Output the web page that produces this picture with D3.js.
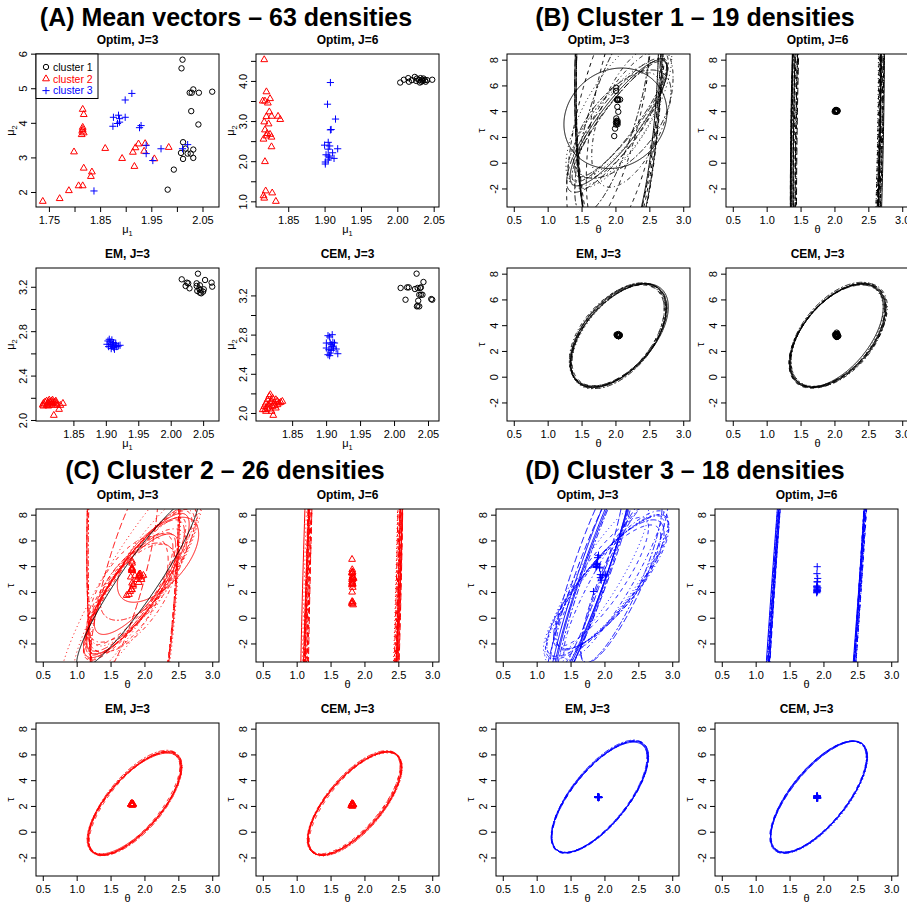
<!DOCTYPE html>
<html>
<head>
<meta charset="utf-8">
<script src="https://cdn.jsdelivr.net/npm/d3@7"></script>
<style>
  body { margin: 0; background: #fff; }
  svg text { font-family: "Liberation Sans", Arial, Helvetica, sans-serif; }
</style>
</head>
<body>
<script>
// ---------- estimated mean vectors (mu1, mu2) per method and cluster ----------
const optim3Cluster1 = [[2.011,5.826],[2.009,5.575],[2.032,4.966],[2.025,4.870],[2.029,4.870],[2.043,4.870],[2.069,4.900],[2.028,4.338],[2.042,3.952],[2.012,3.440],[2.017,3.256],[2.032,3.227],[2.008,3.130],[2.021,3.110],[2.027,3.110],[2.012,2.956],[2.032,2.985],[1.994,2.647],[1.982,2.068]];
const optim3Cluster2 = [[1.738,1.730],[1.771,1.810],[1.789,2.040],[1.808,2.180],[1.816,2.180],[1.799,3.160],[1.818,2.690],[1.834,2.580],[1.832,2.450],[1.816,4.390],[1.818,4.240],[1.816,3.870],[1.815,3.760],[1.818,3.710],[1.814,3.660],[1.816,3.810],[1.860,3.260],[1.893,2.970],[1.917,2.740],[1.914,3.150],[1.919,3.280],[1.925,3.390],[1.936,3.180],[1.938,3.400],[1.956,2.960],[1.984,3.290]];
const optim3Cluster3 = [[1.838,2.030],[1.899,4.660],[1.912,4.850],[1.876,4.160],[1.875,3.900],[1.886,4.220],[1.888,4.020],[1.884,3.980],[1.899,4.160],[1.927,3.860],[1.930,3.920],[1.940,3.350],[1.940,3.110],[1.953,2.910],[1.969,3.250],[2.011,3.250],[2.021,3.370],[1.888,4.120]];

const optim6Cluster1 = [[2.004,3.96],[2.009,4.03],[2.015,4.07],[2.016,3.98],[2.024,4.10],[2.027,4.06],[2.030,4.02],[2.032,4.07],[2.034,4.03],[2.035,4.00],[2.033,3.98],[2.036,4.06],[2.038,4.02],[2.039,3.98],[2.031,3.96],[2.026,4.00],[2.020,4.02],[2.041,4.02],[2.048,4.03]];
const optim6Cluster2 = [[1.817,4.53],[1.820,3.73],[1.815,3.50],[1.818,3.50],[1.822,3.45],[1.825,3.56],[1.824,3.23],[1.827,3.12],[1.820,3.11],[1.836,3.12],[1.839,3.04],[1.817,2.98],[1.823,2.93],[1.818,2.78],[1.821,2.69],[1.825,2.67],[1.820,2.63],[1.827,2.60],[1.816,2.55],[1.827,2.36],[1.818,1.99],[1.819,1.26],[1.816,1.14],[1.817,1.08],[1.828,1.21],[1.833,1.00]];
const optim6Cluster3 = [[1.908,3.96],[1.904,3.42],[1.915,3.05],[1.909,2.79],[1.908,2.78],[1.900,2.40],[1.905,2.47],[1.907,2.38],[1.905,2.30],[1.902,2.16],[1.905,2.13],[1.905,2.03],[1.901,1.98],[1.907,2.10],[1.913,2.07],[1.918,2.31],[1.901,1.93],[1.911,2.21]];

const em3Cluster1 = [[2.017,3.267],[2.025,3.237],[2.027,3.231],[2.023,3.207],[2.029,3.186],[2.040,3.231],[2.042,3.318],[2.045,3.213],[2.044,3.183],[2.041,3.162],[2.045,3.147],[2.047,3.141],[2.046,3.171],[2.050,3.156],[2.051,3.177],[2.053,3.261],[2.063,3.237],[2.064,3.201],[2.040,3.207]];
const em3Cluster2 = [[1.8038,2.150],[1.8063,2.162],[1.8088,2.171],[1.8113,2.156],[1.8138,2.162],[1.8163,2.171],[1.8188,2.156],[1.8214,2.162],[1.8239,2.150],[1.8098,2.141],[1.8088,2.132],[1.8138,2.132],[1.8188,2.135],[1.8038,2.126],[1.8249,2.132],[1.8128,2.180],[1.8178,2.180],[1.8163,2.147],[1.8113,2.126],[1.8229,2.171],[1.8279,2.096],[1.8198,2.042],[1.8339,2.150],[1.8299,2.132],[1.8028,2.135],[1.8148,2.156]];
const em3Cluster3 = [[1.9033,2.712],[1.9053,2.727],[1.9068,2.682],[1.9093,2.667],[1.9118,2.697],[1.9143,2.673],[1.9168,2.661],[1.9193,2.667],[1.9083,2.643],[1.9043,2.661],[1.9133,2.637],[1.9103,2.682],[1.9068,2.703],[1.9018,2.682],[1.9219,2.673],[1.9153,2.691],[1.9093,2.721],[1.9123,2.652]];

const cem3Cluster1 = [[2.0097,3.276],[2.0169,3.156],[2.0193,3.282],[2.0217,3.282],[2.0308,3.265],[2.0332,3.422],[2.0347,3.276],[2.0385,3.276],[2.0395,3.282],[2.0433,3.337],[2.0371,3.207],[2.0395,3.207],[2.0418,3.207],[2.0356,3.146],[2.0347,3.095],[2.0371,3.088],[2.0548,3.163],[2.0562,3.156],[2.0337,3.088]];
const cem3Cluster2 = [[1.8092,2.068],[1.8116,2.102],[1.8140,2.136],[1.8164,2.170],[1.8179,2.187],[1.8188,2.119],[1.8212,2.153],[1.8236,2.102],[1.8260,2.136],[1.8284,2.119],[1.8308,2.102],[1.8332,2.109],[1.8356,2.119],[1.8102,2.034],[1.8131,2.051],[1.8164,2.041],[1.8212,2.068],[1.8260,2.051],[1.8068,2.034],[1.8198,2.017],[1.8222,1.976],[1.8150,2.085],[1.8246,2.075],[1.8284,2.085],[1.8179,2.102],[1.8116,2.017]];
const cem3Cluster3 = [[1.9004,2.714],[1.9028,2.789],[1.9052,2.776],[1.9090,2.799],[1.9061,2.714],[1.9076,2.697],[1.9100,2.721],[1.9109,2.663],[1.9124,2.714],[1.9148,2.653],[1.9090,2.680],[1.9042,2.646],[1.9028,2.595],[1.9052,2.585],[1.9061,2.612],[1.9172,2.605],[1.9004,2.663],[1.9076,2.639]];

// ---------- density contours: [theta centre, tau centre, theta half-width, tau half-height, correlation] ----------
const optim3Contours1 = [[2.00,3.45,0.76,3.90,0.12],[1.90,3.80,0.62,9.50,0.65],[2.05,4.00,0.78,6.00,0.70],[2.25,3.60,0.60,5.50,0.55],[2.02,2.90,0.74,5.20,0.84],[2.10,3.00,0.72,4.20,0.60],[2.06,8.40,0.64,17.5,0.17],[2.15,4.20,0.58,10.0,0.55],[1.98,2.60,0.68,4.40,0.72],[2.12,3.80,0.66,5.00,0.78],[2.08,3.40,0.68,4.50,0.88],[1.95,3.50,0.55,7.50,0.75],[2.05,3.10,0.72,4.90,0.86],[2.05,8.00,0.63,16.0,0.15],[2.00,3.20,0.70,4.60,0.80],[2.07,9.00,0.65,18.5,0.19],[2.04,8.80,0.64,17.0,0.18],[2.06,3.30,0.70,4.80,0.90],[2.02,8.20,0.62,16.5,0.16]];
const optim6Contours1 = [[2.04,4.0,0.65,40,0.18],[2.06,4.0,0.67,38,0.20],[2.02,4.0,0.63,42,0.16],[2.04,4.0,0.69,36,0.19],[2.06,4.0,0.62,40,0.21],[2.03,4.0,0.66,45,0.17],[2.02,4.0,0.67,39,0.18],[2.06,4.0,0.64,41,0.20],[2.04,4.0,0.68,37,0.17],[2.05,4.0,0.62,43,0.19],[2.07,4.0,0.65,40,0.22],[2.02,4.0,0.66,38,0.15],[2.05,4.0,0.69,42,0.18],[2.03,4.0,0.63,39,0.20]];
const em3Contours1 = [[2.04,3.21,0.71,4.03,0.52],[2.05,3.20,0.70,4.00,0.53],[2.04,3.22,0.72,4.06,0.51],[2.03,3.19,0.69,3.98,0.52],[2.05,3.23,0.71,3.95,0.54],[2.04,3.18,0.70,4.10,0.50],[2.06,3.20,0.72,4.02,0.55],[2.04,3.20,0.68,3.92,0.52],[2.05,3.15,0.70,4.08,0.56],[2.03,3.24,0.71,3.97,0.49]];
const cem3Contours1 = [[2.05,3.20,0.70,4.00,0.52],[2.04,3.21,0.71,4.04,0.53],[2.05,3.19,0.69,3.97,0.51],[2.06,3.22,0.72,4.05,0.54],[2.04,3.18,0.70,3.94,0.52],[2.05,3.24,0.71,4.09,0.50],[2.03,3.20,0.69,4.01,0.55],[2.05,3.16,0.72,4.06,0.53],[2.04,3.22,0.68,3.96,0.51],[2.06,3.19,0.70,4.02,0.49]];

const optim3Contours2 = [[1.84,8.4,0.69,22,0.15],[1.90,2.5,0.80,5.8,0.86],[1.85,3.0,1.10,9.0,0.90],[1.90,2.5,0.72,4.4,0.75],[1.80,2.0,0.66,4.6,0.80],[1.95,2.9,0.82,5.8,0.86],[1.88,2.6,0.62,3.9,0.78],[1.75,1.8,0.60,4.5,0.60],[1.90,2.4,0.95,7.5,0.88],[1.82,1.5,0.65,4.2,0.65],[1.70,3.0,0.50,8.0,0.80],[1.90,2.8,0.55,3.0,0.55],[2.20,4.5,0.60,3.3,0.60],[1.83,8.0,0.68,21,0.14],[1.85,8.8,0.70,23,0.16],[1.94,2.8,0.80,5.6,0.84],[1.87,2.4,0.72,5.2,0.82],[1.84,8.2,0.67,22,0.15],[1.88,2.5,0.78,5.6,0.85],[1.78,2.2,0.64,4.3,0.76],[2.00,3.2,0.78,5.4,0.83],[1.86,2.3,0.75,5.5,0.87]];
const optim3Contours2Other = [[1.90,2.75,0.90,6.75,0.93]];
const optim6Contours2 = [[1.83,2.6,0.74,60,0.41],[1.85,2.6,0.73,55,0.40],[1.81,2.6,0.77,62,0.42],[1.83,2.6,0.76,58,0.46],[1.85,2.6,0.70,60,0.36],[1.82,2.6,0.74,65,0.41],[1.83,2.6,0.79,57,0.48],[1.86,2.6,0.74,60,0.40],[1.80,2.6,0.73,61,0.42],[1.83,2.6,0.80,55,0.50],[1.84,2.6,0.75,59,0.35],[1.82,2.6,0.71,63,0.40],[1.81,2.6,0.78,58,0.38],[1.84,2.6,0.72,62,0.44]];
const em3Contours2 = [[1.855,2.20,0.685,4.00,0.70],[1.860,2.18,0.690,4.05,0.71],[1.850,2.22,0.680,3.95,0.69],[1.858,2.20,0.695,4.02,0.72],[1.852,2.16,0.675,3.98,0.70],[1.862,2.24,0.688,4.08,0.68],[1.848,2.19,0.692,3.92,0.71],[1.856,2.21,0.670,4.04,0.73],[1.854,2.17,0.700,3.96,0.70],[1.859,2.23,0.682,4.00,0.69]];
const cem3Contours2 = [[1.857,2.19,0.688,4.02,0.70],[1.852,2.21,0.680,3.97,0.71],[1.861,2.17,0.694,4.06,0.69],[1.849,2.23,0.676,3.94,0.72],[1.856,2.20,0.698,4.01,0.70],[1.860,2.22,0.684,4.07,0.68],[1.853,2.18,0.690,3.99,0.71],[1.858,2.20,0.672,4.03,0.73],[1.855,2.16,0.702,3.95,0.70],[1.851,2.24,0.686,4.00,0.69]];

const optim3Contours3 = [[1.85,3.5,0.62,9.0,0.95],[2.05,2.5,0.90,5.5,0.85],[2.00,2.2,0.88,5.8,0.87],[2.10,2.7,0.85,5.2,0.82],[2.30,3.5,0.65,7.0,0.85],[2.08,2.6,0.80,5.0,0.80],[1.82,3.3,0.64,9.5,0.94],[1.95,2.8,0.70,5.0,0.84],[2.02,2.4,0.92,5.6,0.86],[2.15,3.2,0.75,6.5,0.90],[1.75,3.5,0.55,8.0,0.90],[2.25,3.0,0.60,6.5,0.86],[1.88,3.8,0.60,8.5,0.95],[1.98,2.0,0.85,5.2,0.83],[1.90,3.0,0.75,6.0,0.88],[2.12,2.9,0.82,5.4,0.84],[1.80,3.0,0.70,9.5,0.93],[1.88,3.4,0.60,8.8,0.95]];
const optim6Contours3 = [[1.90,2.5,1.00,60,0.77],[1.91,2.5,1.02,58,0.77],[1.89,2.5,0.99,62,0.76],[1.90,2.5,1.03,60,0.78],[1.92,2.5,0.98,59,0.76],[1.90,2.5,1.00,63,0.78],[1.88,2.5,1.01,57,0.77],[1.90,2.5,0.98,61,0.77],[1.91,2.5,1.00,60,0.76],[1.89,2.5,1.03,58,0.78],[1.91,2.5,0.99,56,0.77]];
const em3Contours3 = [[1.930,2.70,0.710,4.33,0.71],[1.935,2.68,0.715,4.36,0.72],[1.925,2.72,0.705,4.30,0.70],[1.932,2.71,0.720,4.35,0.71],[1.928,2.69,0.700,4.31,0.72],[1.933,2.73,0.712,4.38,0.70],[1.927,2.67,0.708,4.28,0.71],[1.931,2.70,0.716,4.34,0.73]];
const cem3Contours3 = [[1.931,2.70,0.712,4.34,0.71],[1.926,2.71,0.706,4.31,0.72],[1.934,2.69,0.718,4.37,0.70],[1.929,2.72,0.702,4.29,0.71],[1.933,2.68,0.714,4.35,0.73],[1.928,2.70,0.709,4.33,0.70],[1.936,2.71,0.711,4.30,0.72],[1.924,2.69,0.716,4.36,0.71]];

// ---------- axes ----------
const thetaLim = [0.5, 3.0];
const tauLim = [-3, 8];
const thetaTicks = [0.5, 1.0, 1.5, 2.0, 2.5, 3.0];
const tauTicks = [-2, 0, 2, 4, 6, 8];
const optim3MuTicksX = [1.75, 1.80, 1.85, 1.90, 1.95, 2.00, 2.05];
const optim3MuLabelsX = [1.75, 1.85, 1.95, 2.05];
const optim3MuTicksY = [2, 3, 4, 5, 6];
const optim6MuTicksX = [1.85, 1.90, 1.95, 2.00, 2.05];
const optim6MuTicksY = [1.0, 1.5, 2.0, 2.5, 3.0, 3.5, 4.0, 4.5];
const optim6MuLabelsY = [1.0, 2.0, 3.0, 4.0];
const emMuTicksX = [1.85, 1.90, 1.95, 2.00, 2.05];
const emMuTicksY = [2.0, 2.2, 2.4, 2.6, 2.8, 3.0, 3.2];
const emMuLabelsY = [2.0, 2.4, 2.8, 3.2];

const clusterNames = ["cluster 1", "cluster 2", "cluster 3"];
const clusterColors = ["#000000", "#ff0000", "#0000ff"];
const clusterSymbols = ["circle", "triangle", "plus"];

// ---------- drawing ----------
const W = 907, H = 909;
const FONT = '"Liberation Sans", Arial, Helvetica, sans-serif';
const svg = d3.select("body").append("svg")
  .attr("width", W).attr("height", H)
  .style("background", "#fff");

const dashes = [null, "4,4", "1,3", "1,3,4,3", "7,3", "2,2,6,2"];
const symbolPath = {
  circle: d3.symbol(d3.symbolCircle, Math.PI * 2.7 * 2.7)(),
  triangle: "M0,-3.9L3.4,2L-3.4,2Z",
  plus: "M-3.6,0H3.6M0,-3.6V3.6"
};

// R-style 4% range extension
const expand = ([a, b]) => [a - 0.04 * (b - a), b + 0.04 * (b - a)];

function ellipsePoints([cx, cy, hx, hy, r]) {
  const s = Math.sqrt(1 - r * r);
  return d3.range(0, 720).map(i => {
    const t = i * Math.PI / 360;
    return [cx + hx * Math.cos(t), cy + hy * (r * Math.cos(t) + s * Math.sin(t))];
  });
}

let clipId = 0;
function drawPanel(p) {
  const [x0, y0] = p.origin;
  const x1 = x0 + 183, y1 = y0 + 153;
  const x = d3.scaleLinear().domain(p.xDomain).range([x0, x1]);
  const y = d3.scaleLinear().domain(p.yDomain).range([y1, y0]);
  const g = svg.append("g");

  const id = "clip" + (clipId++);
  svg.append("clipPath").attr("id", id).append("rect")
    .attr("x", x0).attr("y", y0).attr("width", x1 - x0).attr("height", y1 - y0);
  const plot = g.append("g").attr("clip-path", `url(#${id})`);

  const line = d3.line().x(d => x(d[0])).y(d => y(d[1])).curve(d3.curveLinearClosed);
  (p.contours || []).forEach(set => {
    plot.append("g").selectAll("path").data(set.list).join("path")
      .attr("d", d => line(ellipsePoints(d)))
      .attr("fill", "none")
      .attr("stroke", set.color)
      .attr("stroke-width", 1)
      .attr("stroke-dasharray", (d, i) => dashes[i % 6]);
  });

  (p.points || []).forEach(set => {
    plot.append("g").selectAll("path").data(set.list).join("path")
      .attr("transform", d => `translate(${x(d[0])},${y(d[1])})`)
      .attr("d", symbolPath[set.symbol])
      .attr("fill", "none")
      .attr("stroke", set.color)
      .attr("stroke-width", 1);
  });

  // box
  g.append("rect").attr("x", x0).attr("y", y0).attr("width", x1 - x0).attr("height", y1 - y0)
    .attr("fill", "none").attr("stroke", "#000").attr("stroke-width", 1);

  // axes
  const xLab = p.xLabels || p.xTicks;
  const yLab = p.yLabels || p.yTicks;
  const gx = g.append("g").attr("transform", `translate(0,${y1})`)
    .call(d3.axisBottom(x).tickValues(p.xTicks).tickSize(5).tickPadding(4.5)
      .tickFormat(d => xLab.includes(d) ? p.xFormat(d) : ""));
  const gy = g.append("g").attr("transform", `translate(${x0},0)`)
    .call(d3.axisLeft(y).tickValues(p.yTicks).tickSize(5)
      .tickFormat(d => yLab.includes(d) ? p.yFormat(d) : ""));
  [gx, gy].forEach(a => {
    a.select(".domain").remove();
    a.attr("font-family", FONT).attr("font-size", 11);
    a.selectAll("line").attr("stroke", "#000");
    a.selectAll("text").attr("fill", "#000");
  });
  gy.selectAll("text")
    .attr("x", null).attr("dy", null)
    .attr("text-anchor", "middle")
    .attr("transform", "translate(-9,0) rotate(-90)");

  // titles
  g.append("text").attr("x", (x0 + x1) / 2).attr("y", y0 - 10)
    .attr("text-anchor", "middle").attr("font-size", 12).attr("font-weight", "bold")
    .text(p.title);

  const xt = g.append("text").attr("x", (x0 + x1) / 2).attr("y", y1 + 26)
    .attr("text-anchor", "middle").attr("font-size", 11);
  xt.append("tspan").text(p.xName);
  if (p.xSub) xt.append("tspan").attr("font-size", 7.5).attr("dy", 2.5).text(p.xSub);

  const yt = g.append("text")
    .attr("transform", `translate(${x0 - 22},${(y0 + y1) / 2}) rotate(-90)`)
    .attr("text-anchor", "middle").attr("font-size", 11);
  yt.append("tspan").text(p.yName);
  if (p.ySub) yt.append("tspan").attr("font-size", 7.5).attr("dy", 2.5).text(p.ySub);

  if (p.legend) {
    const lg = g.append("g");
    lg.append("rect").attr("x", x0).attr("y", y0).attr("width", 62).attr("height", 44.5)
      .attr("fill", "#fff").attr("stroke", "#000").attr("stroke-width", 1);
    clusterNames.forEach((name, i) => {
      lg.append("path").attr("transform", `translate(${x0 + 10},${y0 + 13 + i * 11.8})`)
        .attr("d", symbolPath[clusterSymbols[i]])
        .attr("fill", "none").attr("stroke", clusterColors[i]);
      lg.append("text").attr("x", x0 + 17).attr("y", y0 + 13 + i * 11.8 + 3.7)
        .attr("font-size", 10.5).attr("fill", clusterColors[i]).text(name);
    });
  }
}

const f2 = d3.format(".2f"), f1 = d3.format(".1f"), fInt = d => String(d);

function meanPanel(origin, title, c1, c2, c3, xTicks, xLabels, yTicks, yLabels, yFormat, legend) {
  const all = c1.concat(c2, c3);
  return {
    origin, title, legend,
    xDomain: expand(d3.extent(all, d => d[0])),
    yDomain: expand(d3.extent(all, d => d[1])),
    xTicks, xLabels, yTicks, yLabels,
    xFormat: f2, yFormat,
    xName: "μ", xSub: "1", yName: "μ", ySub: "2",
    points: [
      { list: c1, color: clusterColors[0], symbol: "circle" },
      { list: c2, color: clusterColors[1], symbol: "triangle" },
      { list: c3, color: clusterColors[2], symbol: "plus" }
    ]
  };
}

function contourPanel(origin, title, contours, means, k) {
  return {
    origin, title,
    xDomain: expand(thetaLim), yDomain: expand(tauLim),
    xTicks: thetaTicks, yTicks: tauTicks,
    xFormat: f1, yFormat: fInt,
    xName: "θ", yName: "τ",
    contours,
    points: [{ list: means, color: clusterColors[k], symbol: clusterSymbols[k] }]
  };
}

const panels = [
  meanPanel([36, 54], "Optim, J=3", optim3Cluster1, optim3Cluster2, optim3Cluster3,
    optim3MuTicksX, optim3MuLabelsX, optim3MuTicksY, null, fInt, true),
  meanPanel([256, 54], "Optim, J=6", optim6Cluster1, optim6Cluster2, optim6Cluster3,
    optim6MuTicksX, null, optim6MuTicksY, optim6MuLabelsY, f1, false),
  meanPanel([36, 268], "EM, J=3", em3Cluster1, em3Cluster2, em3Cluster3,
    emMuTicksX, null, emMuTicksY, emMuLabelsY, f1, false),
  meanPanel([256, 268], "CEM, J=3", cem3Cluster1, cem3Cluster2, cem3Cluster3,
    emMuTicksX, null, emMuTicksY, emMuLabelsY, f1, false),

  contourPanel([507, 54], "Optim, J=3", [{ list: optim3Contours1, color: "#000" }], optim3Cluster1, 0),
  contourPanel([726, 54], "Optim, J=6", [{ list: optim6Contours1, color: "#000" }], optim6Cluster1, 0),
  contourPanel([507, 268], "EM, J=3", [{ list: em3Contours1, color: "#000" }], em3Cluster1, 0),
  contourPanel([726, 268], "CEM, J=3", [{ list: cem3Contours1, color: "#000" }], cem3Cluster1, 0),

  contourPanel([36, 509], "Optim, J=3", [{ list: optim3Contours2, color: "#ff0000" }, { list: optim3Contours2Other, color: "#000" }], optim3Cluster2, 1),
  contourPanel([256, 509], "Optim, J=6", [{ list: optim6Contours2, color: "#ff0000" }], optim6Cluster2, 1),
  contourPanel([36, 723], "EM, J=3", [{ list: em3Contours2, color: "#ff0000" }], em3Cluster2, 1),
  contourPanel([256, 723], "CEM, J=3", [{ list: cem3Contours2, color: "#ff0000" }], cem3Cluster2, 1),

  contourPanel([496, 509], "Optim, J=3", [{ list: optim3Contours3, color: "#0000ff" }], optim3Cluster3, 2),
  contourPanel([715, 509], "Optim, J=6", [{ list: optim6Contours3, color: "#0000ff" }], optim6Cluster3, 2),
  contourPanel([496, 723], "EM, J=3", [{ list: em3Contours3, color: "#0000ff" }], em3Cluster3, 2),
  contourPanel([715, 723], "CEM, J=3", [{ list: cem3Contours3, color: "#0000ff" }], cem3Cluster3, 2)
];
panels.forEach(drawPanel);

// block headings
const headings = [
  { text: "(A) Mean vectors – 63 densities", x: 226, y: 26 },
  { text: "(B) Cluster 1 – 19 densities", x: 695, y: 26 },
  { text: "(C) Cluster 2 – 26 densities", x: 225, y: 479 },
  { text: "(D) Cluster 3 – 18 densities", x: 685, y: 479 }
];
svg.selectAll("text.heading").data(headings).join("text")
  .attr("class", "heading")
  .attr("x", d => d.x).attr("y", d => d.y)
  .attr("text-anchor", "middle")
  .attr("font-size", 25).attr("font-weight", "bold")
  .text(d => d.text);
</script>
</body>
</html>
